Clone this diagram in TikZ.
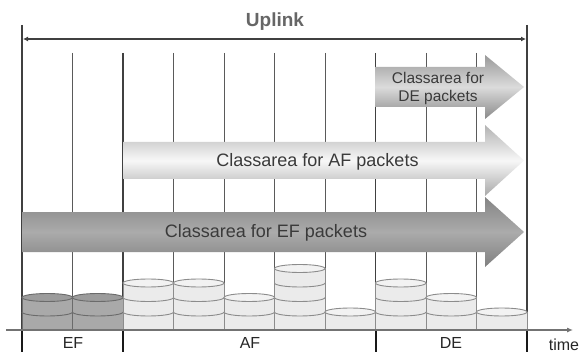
\documentclass[tikz,border=0pt]{standalone}
\usepackage{fontspec}
\setmainfont{Liberation Sans}
\usetikzlibrary{arrows.meta}

\definecolor{gridgray}{HTML}{5A5A5A}
\definecolor{boundgray}{HTML}{404040}
\definecolor{textgray}{HTML}{3A3A3A}
\definecolor{efbody}{HTML}{A9A9A9}
\definecolor{eflid}{HTML}{9C9C9C}
\definecolor{afbody}{HTML}{EBEBEB}
\definecolor{aflid}{HTML}{F2F2F2}

\tikzset{
  slotline/.style={draw=gridgray, line width=0.9pt},
  boundline/.style={draw=boundgray, line width=1.6pt},
  classtext/.style={text=textgray, inner sep=0pt, align=center},
  slotlabel/.style={text=black!85, inner sep=0pt, font=\fontsize{16}{18}\selectfont},
  dearrow/.style={top color=black!40, bottom color=black!46, middle color=black!14},
  afarrow/.style={top color=black!30, bottom color=black!34, middle color=black!3},
  efarrow/.style={top color=black!48, bottom color=black!50, middle color=black!33},
  efdrum/.style={fill=efbody, draw=black!58, line width=0.9pt},
  eftop/.style={fill=eflid, draw=black!58, line width=0.9pt},
  afdrum/.style={fill=afbody, draw=black!45, line width=0.9pt},
  aftop/.style={fill=aflid, draw=black!45, line width=0.9pt}
}

% one stack of packets: left x, number of discs, body style, lid style
\newcommand{\drum}[4]{%
  \pgfmathsetmacro{\dx}{#1}
  \pgfmathsetmacro{\dtop}{326.5-14.5*#2}
  \fill[#3] (\dx,330) rectangle (\dx+50.5,\dtop);
  \draw[#3] (\dx,330) -- (\dx,\dtop) (\dx+50.5,330) -- (\dx+50.5,\dtop);
  \ifnum#2>1
    \foreach \k in {2,...,#2}{
      \draw[#3] (\dx,{326.5-14.5*(\k-1)}) arc[start angle=180, end angle=360, x radius=25.25pt, y radius=4pt];
    }
  \fi
  \draw[#4] (\dx+25.25,\dtop) ellipse [x radius=25.25pt, y radius=4pt];
}

\begin{document}
\begin{tikzpicture}[x=1pt, y=-1pt]
    \useasboundingbox[fill=white] (0,0) rectangle (582,353);

    % slot grid
    \foreach \i in {1,3,4,5,6,8,9}
        \draw[slotline] (22+50.5*\i,53) -- (22+50.5*\i,330);
    \draw[boundline] (22,25) -- (22,352);
    \draw[boundline] (527,25) -- (527,352);
    \draw[boundline] (123,53) -- (123,352);
    \draw[boundline] (375.5,53) -- (375.5,352);

    % Uplink
    \coordinate (upL) at (23,39);
    \coordinate (upR) at (526,39);
    \draw[boundgray, line width=1.4pt, {Latex[length=5pt,width=5pt]}-{Latex[length=5pt,width=5pt]}] (upL) -- (upR);
    \node[text=black!60, inner sep=0pt, anchor=base, font=\fontsize{19}{20}\bfseries] (uplink) at (275,27) {Uplink};

    % class areas
    \shade[dearrow] (375.5,67) -- (485,67) -- (485,55) -- (524,87) -- (485,119) -- (485,107) -- (375.5,107) -- cycle;
    \node[classtext, font=\fontsize{15.5}{18}\selectfont] (detext) at (438,88) {Classarea for\\DE packets};

    \shade[afarrow] (123,142) -- (485,142) -- (485,125) -- (524,160.5) -- (485,196) -- (485,179) -- (123,179) -- cycle;
    \node[classtext, font=\fontsize{18}{20}\selectfont] (aftext) at (317.5,162) {Classarea for AF packets};

    \shade[efarrow] (22,212) -- (485,212) -- (485,197) -- (524,232) -- (485,267) -- (485,252) -- (22,252) -- cycle;
    \node[classtext, font=\fontsize{18}{20}\selectfont] (eftext) at (266,233) {Classarea for EF packets};

    % packets
    \foreach \i/\n/\b/\t in {0/2/efdrum/eftop, 1/2/efdrum/eftop, 2/3/afdrum/aftop, 3/3/afdrum/aftop,
                             4/2/afdrum/aftop, 5/4/afdrum/aftop, 6/1/afdrum/aftop, 7/3/afdrum/aftop,
                             8/2/afdrum/aftop, 9/1/afdrum/aftop}
        \drum{22+50.5*\i}{\n}{\b}{\t};

    % time axis
    \coordinate (t0) at (6,330);
    \coordinate (t1) at (573,330);
    \draw[black!55, line width=1.1pt, -{Latex[length=6pt,width=5pt]}] (t0) -- (t1);
    \foreach \x in {22,123,375.5,527}
        \draw[black!90, line width=2pt] (\x,331) -- (\x,352);

    \node[slotlabel] (ef) at (73,343) {EF};
    \node[slotlabel] (af) at (250,343) {AF};
    \node[slotlabel] (de) at (451,343) {DE};
    \node[slotlabel, anchor=base] (time) at (564,350) {time};
\end{tikzpicture}
\end{document}
